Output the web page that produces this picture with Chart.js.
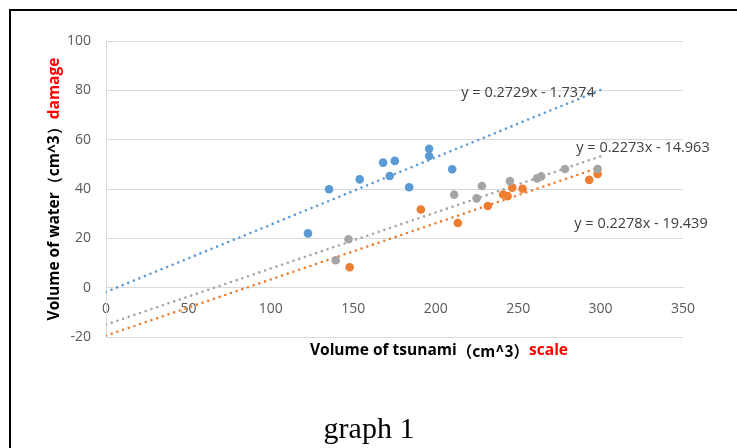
<!DOCTYPE html>
<html>
<head>
<meta charset="utf-8">
<title>graph 1</title>
<script src="https://cdn.jsdelivr.net/npm/chart.js@4.4.1/dist/chart.umd.min.js"></script>
<style>
    html, body { margin: 0; padding: 0; background: #ffffff; }
    #wrap { position: relative; width: 737px; height: 448px; }
</style>
</head>
<body>
<div id="wrap"><canvas id="graphChart" width="737" height="448"></canvas></div>
<script>
// Values
const blueX = [122.5, 135.3, 153.9, 168.1, 172.1, 175.2, 183.9, 196.0, 196.0, 210.0];
const blueY = [22.0, 39.9, 43.9, 50.7, 45.3, 51.4, 40.7, 56.3, 53.4, 48.0];

const grayX = [139.3, 147.1, 211.2, 224.8, 228.0, 245.0, 261.5, 264.0, 278.4, 298.2];
const grayY = [11.1, 19.6, 37.7, 36.2, 41.2, 43.2, 44.3, 45.1, 48.1, 48.1];

const orangeX = [147.8, 191.0, 213.4, 231.6, 240.9, 243.6, 246.4, 252.7, 293.1, 298.2];
const orangeY = [8.3, 31.7, 26.2, 33.1, 37.8, 37.1, 40.5, 40.1, 43.7, 46.1];

// Trendlines as printed on the chart (blue, gray, orange)
const trendSlopes = [0.2729, 0.2273, 0.2278];
const trendIntercepts = [-1.7374, -14.963, -19.439];
const trendRange = [0, 300];
const trendLabels = ['y = 0.2729x - 1.7374', 'y = 0.2273x - 14.963', 'y = 0.2278x - 19.439'];

const xTicks = [0, 50, 100, 150, 200, 250, 300, 350];
const yTicks = [-20, 0, 20, 40, 60, 80, 100];

const seriesColors = ['#5B9BD5', '#A5A5A5', '#ED7D31'];

/**
 * Builds and draws the scatter chart
 */
class GraphChart {
    constructor() {
        this.canvas = document.getElementById('graphChart');
        this.initChart();
    }

    /**
     * Pairs two arrays into {x, y} points
     */
    toPoints(xs, ys) {
        return xs.map((x, i) => ({ x: x, y: ys[i] }));
    }

    /**
     * Endpoints of a trendline from its equation
     */
    trendPoints(i) {
        return trendRange.map(x => ({ x: x, y: trendSlopes[i] * x + trendIntercepts[i] }));
    }

    pointDataset(points, color) {
        return {
            data: points,
            backgroundColor: color,
            borderWidth: 0,
            pointRadius: 4.3,
            pointHoverRadius: 4.3
        };
    }

    trendDataset(i) {
        return {
            data: this.trendPoints(i),
            showLine: true,
            borderColor: seriesColors[i],
            borderWidth: 2.6,
            borderDash: [0, 6],
            borderCapStyle: 'round',
            pointRadius: 0,
            fill: false
        };
    }

    /**
     * Frame, axis titles, equations and caption
     */
    textPlugin() {
        const drawSegments = (ctx, segments, cx, cy) => {
            let total = 0;
            segments.forEach(s => { ctx.font = s.font; total += ctx.measureText(s.text).width; });
            let x = cx - total / 2;
            segments.forEach(s => {
                ctx.font = s.font;
                ctx.fillStyle = s.color;
                ctx.fillText(s.text, x, cy);
                x += ctx.measureText(s.text).width;
            });
        };

        return {
            id: 'graphTexts',
            beforeDraw(chart) {
                const ctx = chart.ctx;
                ctx.save();
                ctx.strokeStyle = '#000000';
                ctx.lineWidth = 2;
                ctx.beginPath();
                ctx.moveTo(10, 448);
                ctx.lineTo(10, 10);
                ctx.lineTo(737, 10);
                ctx.stroke();
                ctx.restore();
            },
            afterDraw(chart) {
                const ctx = chart.ctx;
                const bold = "bold 15.5px 'Open Sans', sans-serif";
                const cjk = "bold 15.5px 'Noto Sans CJK JP', sans-serif";
                ctx.save();
                ctx.textAlign = 'left';
                ctx.textBaseline = 'middle';

                // X axis title
                drawSegments(ctx, [
                    { text: 'Volume of tsunami', font: bold, color: '#000000' },
                    { text: '（cm^3）', font: cjk, color: '#000000' },
                    { text: 'scale', font: bold, color: '#FF0000' }
                ], 439, 351);

                // Y axis title
                ctx.save();
                ctx.translate(55, 189);
                ctx.rotate(-Math.PI / 2);
                drawSegments(ctx, [
                    { text: 'Volume of water', font: bold, color: '#000000' },
                    { text: '（cm^3）', font: bold, color: '#000000' },
                    { text: 'damage', font: bold, color: '#FF0000' }
                ], 0, 0);
                ctx.restore();

                // Trendline equations
                ctx.textAlign = 'center';
                ctx.fillStyle = '#404040';
                ctx.font = "14.5px 'Open Sans', sans-serif";
                ctx.fillText(trendLabels[0], 528, 93);
                ctx.fillText(trendLabels[1], 643, 148);
                ctx.fillText(trendLabels[2], 641, 224);

                // Caption
                ctx.fillStyle = '#000000';
                ctx.font = "30px 'Liberation Serif', serif";
                ctx.textBaseline = 'alphabetic';
                ctx.fillText('graph 1', 369, 438);
                ctx.restore();
            }
        };
    }

    initChart() {
        Chart.defaults.font.family = "'Open Sans', sans-serif";
        Chart.defaults.font.size = 14;
        Chart.defaults.color = '#595959';

        this.chart = new Chart(this.canvas, {
            type: 'scatter',
            data: {
                datasets: [
                    this.pointDataset(this.toPoints(blueX, blueY), seriesColors[0]),
                    this.pointDataset(this.toPoints(grayX, grayY), seriesColors[1]),
                    this.pointDataset(this.toPoints(orangeX, orangeY), seriesColors[2]),
                    this.trendDataset(0),
                    this.trendDataset(1),
                    this.trendDataset(2)
                ]
            },
            options: {
                responsive: false,
                animation: false,
                devicePixelRatio: 1,
                layout: {
                    padding: { left: 0, top: 41, right: 54, bottom: 111 }
                },
                plugins: {
                    legend: { display: false },
                    tooltip: { enabled: false },
                    title: { display: false }
                },
                scales: {
                    x: {
                        type: 'linear',
                        position: { y: 0 },
                        min: xTicks[0],
                        max: xTicks[xTicks.length - 1],
                        afterBuildTicks: (scale) => {
                            scale.ticks = xTicks.map(v => ({ value: v }));
                        },
                        grid: { display: false, drawTicks: false },
                        border: { display: true, color: '#D9D9D9', width: 1 },
                        ticks: { padding: 13, color: '#595959', maxRotation: 0 }
                    },
                    y: {
                        type: 'linear',
                        min: yTicks[0],
                        max: yTicks[yTicks.length - 1],
                        afterBuildTicks: (scale) => {
                            scale.ticks = yTicks.map(v => ({ value: v }));
                        },
                        afterFit: (scale) => { scale.width = 106; },
                        grid: { color: '#D9D9D9', lineWidth: 1, drawTicks: false },
                        border: { display: true, color: '#D9D9D9', width: 1 },
                        ticks: { padding: 15, color: '#595959' }
                    }
                }
            },
            plugins: [this.textPlugin()]
        });
    }
}

document.addEventListener('DOMContentLoaded', function() {
    if (typeof Chart !== 'undefined') {
        new GraphChart();
    } else {
        console.error('Chart.js is not loaded.');
    }
});
</script>
</body>
</html>
